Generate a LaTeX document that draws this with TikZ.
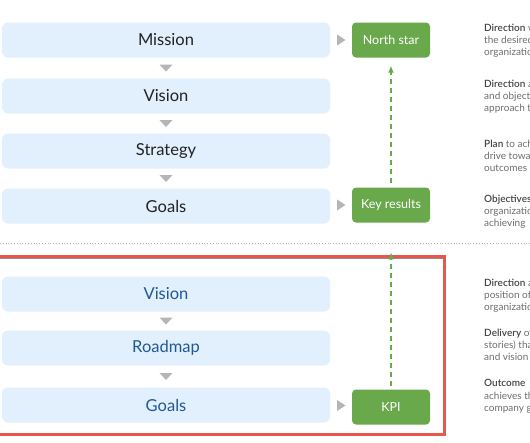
\documentclass[tikz,border=0pt]{standalone}
\usepackage{fontspec}
\setmainfont{Lato}
\newfontfamily\semib{Lato Semibold}
\usetikzlibrary{arrows.meta,calc}
\definecolor{boxfill}{HTML}{E2EFFC}
\definecolor{greenbox}{HTML}{69A84B}
\definecolor{triGrey}{HTML}{B5B5B5}
\definecolor{darkText}{HTML}{222222}
\definecolor{blueText}{HTML}{1F5A94}
\definecolor{descText}{HTML}{6E6E6E}
\definecolor{descBold}{HTML}{444444}
\definecolor{redFrame}{HTML}{E8574B}
\newcommand{\lead}[1]{\textcolor{descBold}{\semib #1}}
\begin{document}
\begin{tikzpicture}[x=1pt,y=-1pt,
  bbox/.style={fill=boxfill,rounded corners=6pt,minimum width=328pt,minimum height=35pt,inner sep=0pt,font=\fontsize{16.5}{18}\selectfont},
  topbox/.style={bbox,text=darkText},
  lowbox/.style={bbox,text=blueText},
  gbox/.style={fill=greenbox,rounded corners=4pt,minimum width=78pt,minimum height=35pt,inner sep=0pt,text=white,font=\fontsize{12.5}{14}\selectfont},
  tri/.style={fill=triGrey},
  gdash/.style={draw=greenbox,line width=1.3pt,dash pattern=on 5pt off 4pt,-{Latex[length=7pt,width=6pt]}},
  desc/.style={anchor=north west,inner sep=0pt,align=left,text=descText,font=\fontsize{10}{12.2}\selectfont}
]
\useasboundingbox (0,0) rectangle (530,442);
\clip (0,0) rectangle (530,442);
\fill[white] (0,0) rectangle (530,442);

% top section
\node[topbox] (mission) at (166,40) {Mission};
\node[topbox] (vision) at (166,96) {Vision};
\node[topbox] (strategy) at (166,151) {Strategy};
\node[topbox] (goals) at (166,206) {Goals};

\node[gbox] (north) at (391,40) {North star};
\node[gbox] (keyres) at (391,205) {Key results};

% down triangles
\foreach \a/\b in {mission/vision,vision/strategy,strategy/goals}{
  \fill[tri] ($(\a.south)!0.5!(\b.north)$) ++(-6.5,-3.5) -- ++(13,0) -- ++(-6.5,7) -- cycle;
}
% right triangles
\fill[tri] (337,34.5) -- (345.5,40) -- (337,45.5) -- cycle;
\fill[tri] (337,199.5) -- (345.5,205) -- (337,210.5) -- cycle;

\draw[gdash,shorten <=4pt,shorten >=8pt] (keyres.north) -- (north.south);

% separator
\draw[descText!55,dotted,line width=0.8pt] (0,243) -- (530,243);

% lower section
\node[lowbox] (vision2) at (166,294) {Vision};
\node[lowbox] (roadmap) at (166,348) {Roadmap};
\node[lowbox] (goals2) at (166,405) {Goals};
\node[gbox] (kpi) at (391,407) {KPI};

\foreach \a/\b in {vision2/roadmap,roadmap/goals2}{
  \fill[tri] ($(\a.south)!0.5!(\b.north)$) ++(-6.5,-3.5) -- ++(13,0) -- ++(-6.5,7) -- cycle;
}
\fill[tri] (337,400) -- (345.5,405.5) -- (337,411) -- cycle;

% red frame
\draw[black!45,line width=0.6pt] (-3,258) -- (444,258);
\draw[redFrame,line width=3pt] (-3,256.5) rectangle (444.5,434);

\coordinate (kpiTop) at ($(kpi.north)+(0,-137)$);
\draw[gdash,shorten <=3pt] (kpi.north) -- (kpiTop);

% descriptions
\node[desc] at (484,23.5) {\lead{Direction} which\\the desired future\\organization};
\node[desc] at (484,79.5) {\lead{Direction} and\\and objectives\\approach to};
\node[desc] at (484,139.5) {\lead{Plan} to achieve\\drive towards\\outcomes};
\node[desc] at (484,194.5) {\lead{Objectives}\\organization\\achieving};
\node[desc] at (484,278.5) {\lead{Direction} and\\position of the\\organization};
\node[desc] at (484,328.5) {\lead{Delivery} of\\stories) that\\and vision};
\node[desc] at (484,379.5) {\lead{Outcome}\\achieves the\\company goals};
\end{tikzpicture}
\end{document}
